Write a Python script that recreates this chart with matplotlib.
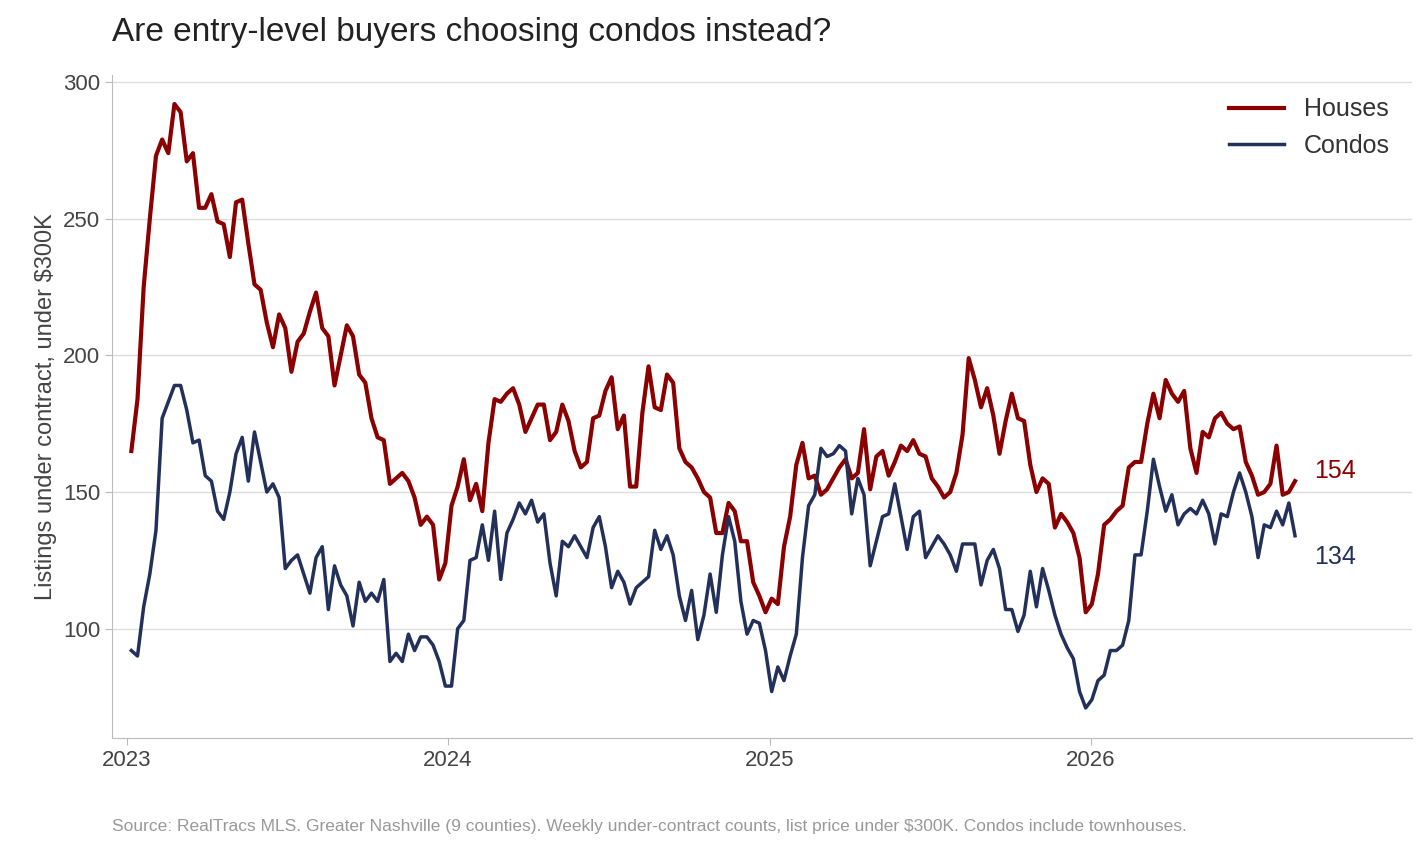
import matplotlib.pyplot as plt
import matplotlib.dates as mdates
import numpy as np
import pandas as pd

plt.rcParams['font.family'] = ['Liberation Sans', 'DejaVu Sans']

houses = [165, 184, 225, 250, 273, 279, 274, 292, 289, 271,
          274, 254, 254, 259, 249, 248, 236, 256, 257, 241,
          226, 224, 212, 203, 215, 210, 194, 205, 208, 216,
          223, 210, 207, 189, 200, 211, 207, 193, 190, 177,
          170, 169, 153, 155, 157, 154, 148, 138, 141, 138,
          118, 124,
          145, 152, 162, 147, 153, 143, 168, 184, 183, 186,
          188, 182, 172, 177, 182, 182, 169, 172, 182, 176,
          165, 159, 161, 177, 178, 187, 192, 173, 178, 152,
          152, 179, 196, 181, 180, 193, 190, 166, 161, 159,
          155, 150, 148, 135, 135, 146, 143, 132, 132, 117,
          112, 106,
          111, 109, 130, 141, 160, 168, 155, 156, 149, 151,
          155, 159, 162, 155, 157, 173, 151, 163, 165, 156,
          161, 167, 165, 169, 164, 163, 155, 152, 148, 150,
          157, 171, 199, 191, 181, 188, 178, 164, 176, 186,
          177, 176, 160, 150, 155, 153, 137, 142, 139, 135,
          126, 106,
          109, 120, 138, 140, 143, 145, 159, 161, 161, 175,
          186, 177, 191, 186, 183, 187, 166, 157, 172, 170,
          177, 179, 175, 173, 174, 161, 156, 149, 150, 153,
          167, 149, 150, 154]

condos = [92, 90, 108, 120, 136, 177, 183, 189, 189, 180,
          168, 169, 156, 154, 143, 140, 150, 164, 170, 154,
          172, 161, 150, 153, 148, 122, 125, 127, 120, 113,
          126, 130, 107, 123, 116, 112, 101, 117, 110, 113,
          110, 118, 88, 91, 88, 98, 92, 97, 97, 94,
          88, 79,
          79, 100, 103, 125, 126, 138, 125, 143, 118, 135,
          140, 146, 142, 147, 139, 142, 124, 112, 132, 130,
          134, 130, 126, 137, 141, 130, 115, 121, 117, 109,
          115, 117, 119, 136, 129, 134, 127, 112, 103, 114,
          96, 105, 120, 106, 127, 141, 132, 110, 98, 103,
          102, 92,
          77, 86, 81, 90, 98, 126, 145, 149, 166, 163,
          164, 167, 165, 142, 155, 149, 123, 132, 141, 142,
          153, 141, 129, 141, 143, 126, 130, 134, 131, 127,
          121, 131, 131, 131, 116, 125, 129, 122, 107, 107,
          99, 105, 121, 108, 122, 114, 105, 98, 93, 89,
          77, 71,
          74, 81, 83, 92, 92, 94, 103, 127, 127, 143,
          162, 152, 143, 149, 138, 142, 144, 142, 147, 142,
          131, 142, 141, 150, 157, 150, 141, 126, 138, 137,
          143, 138, 146, 134]

years = ["2023", "2024", "2025", "2026"]

dates = pd.date_range("2023-01-06", periods=len(houses), freq="7D")

RED = "#8b0000"
NAVY = "#22305a"

fig = plt.figure(figsize=(14.28, 8.52), dpi=100)
ax = fig.add_axes([112 / 1428, 1 - 738 / 852, 1300 / 1428, 663 / 852])

ax.plot(dates, houses, color=RED, lw=3, label="Houses")
ax.plot(dates, condos, color=NAVY, lw=2.5, label="Condos")

ax.set_xlim(pd.Timestamp("2022-12-15"), pd.Timestamp("2027-01-01"))
ax.set_ylim(60, 302.6)
ax.set_yticks([100, 150, 200, 250, 300])
ax.set_xticks([pd.Timestamp(y + "-01-01") for y in years])
ax.set_xticklabels(years)
ax.grid(axis="y", color="#dddddd", lw=1)
ax.set_axisbelow(True)
for s in ["top", "right"]:
    ax.spines[s].set_visible(False)
for s in ["left", "bottom"]:
    ax.spines[s].set_color("#bbbbbb")
ax.tick_params(labelsize=16, colors="#444444", length=5, color="#bbbbbb")
ax.set_ylabel("Listings under contract, under $300K", fontsize=17, color="#444444")

ax.annotate(str(houses[-1]), (dates[-1], houses[-1]), xytext=(14, 7),
            textcoords="offset points", color=RED, fontsize=18, va="center")
ax.annotate(str(condos[-1]), (dates[-1], condos[-1]), xytext=(14, -15),
            textcoords="offset points", color=NAVY, fontsize=18, va="center")

ax.legend(loc="upper right", frameon=False, fontsize=18, handlelength=2.2,
          labelcolor="#333333")

fig.text(112 / 1428, 1 - 32 / 852, "Are entry-level buyers choosing condos instead?",
         fontsize=24, color="#222222", va="center")
fig.text(112 / 1428, 1 - 826 / 852,
         "Source: RealTracs MLS. Greater Nashville (9 counties). Weekly under-contract counts, "
         "list price under $300K. Condos include townhouses.",
         fontsize=12.5, color="#999999", va="center")

fig.savefig("out.png", dpi=100)
